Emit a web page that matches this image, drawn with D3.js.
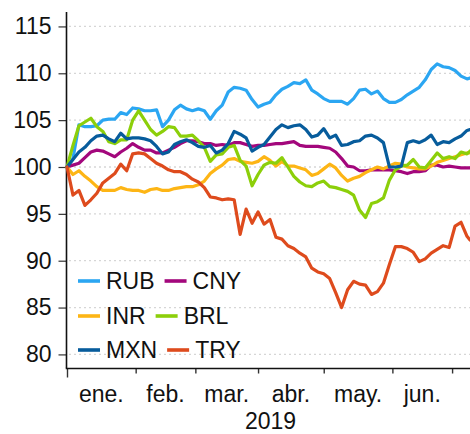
<!DOCTYPE html>
<html><head><meta charset="utf-8">
<script src="https://cdn.jsdelivr.net/npm/d3@7"></script>
<style>body{margin:0;background:#fff}svg{display:block}text{font-family:"Liberation Sans",Arial,sans-serif;fill:#111}</style>
</head><body><svg id="c" width="470" height="434"></svg>
<script>
// business-day index since 1 Jan 2019
const days = [0,2,4,6,8,10,12,14,16,18,20,22,24,26,28,30,32,34,36,38,40,42,44,46,48,50,52,54,56,58,60,62,64,66,68,70,72,74,76,78,80,82,84,86,88,90,92,94,96,98,100,102,104,106,108,110,112,114,116,118,120,122,124,126,128,130,132,134,135];
const monthTicks = [0,23,43,64,86,109,129];
const monthLabels = ["ene.","feb.","mar.","abr.","may.","jun."];
const yearLabel = "2019";
const yTicks = [80,85,90,95,100,105,110,115];
const seriesNames = ["RUB","CNY","INR","BRL","MXN","TRY"];
const seriesColors = ["#2ba6f2","#a3077c","#fdb515","#8ccf0a","#075c9c","#de4b1d"];

const rub = [100,100.9,104.5,104.3,104.3,104.4,105,105.1,105.1,105.8,105.6,106.3,106.2,106,106,106.1,104.3,105,106.1,106.6,106.2,106,106.2,106,105.1,106,106.6,108,108.5,108.4,108.2,107.2,106.4,106.7,106.9,107.7,108.3,108.6,109,108.9,109.3,108.2,107.8,107.3,107,107,107,106.7,107.3,108.2,108.3,107.8,108.1,107.3,106.9,106.9,107.2,107.7,108.1,108.5,109.3,110.4,111,110.7,110.6,110.3,109.7,109.4,109.5];
const cny = [100,100.2,100.4,101,101.6,101.8,101.7,101.4,101.1,101.6,102,102.5,102.1,101.8,101.8,101.5,101.5,101.8,102.1,102.5,102.8,102.8,102.7,102.5,102.5,102.3,102.4,102.3,102.6,102.6,102.4,102.2,102.3,102.3,102.4,102.5,102.5,102.6,102.7,102.3,102.2,102.2,102.2,102.1,102,101.6,100.9,100.1,100,99.6,99.6,99.7,99.7,99.7,99.7,99.6,99.5,99.3,99.5,99.5,99.6,100.2,100.2,100,100.1,100,99.9,99.9,99.9];
const inr = [100,99.2,99.6,99,98.5,97.9,97.5,97.5,97.5,97.8,97.6,97.5,97.5,97.3,97.6,97.7,97.5,97.5,97.7,97.8,97.9,97.9,98.1,98.5,99.3,99.8,100.2,100.8,100.9,100.6,100.5,100.4,100.6,101.1,100.7,100.1,100.6,100.1,100.1,99.9,99.7,99.1,99.3,99.8,100.3,99.9,99.1,98.5,98.8,99,99.4,99.7,100,99.8,100.1,100.4,100.3,100,99.9,99.8,99.8,100.1,100.5,100.7,100.9,101.1,101.3,101.5,101.5];
const brl = [100,102.3,104.4,104.8,105.2,104.3,103.8,102.7,102.5,102.9,102.9,105,106,105,104,103.4,103.8,104.3,104.2,103.3,103.3,103.4,102.8,102.1,100.6,101.3,101.4,102.1,102.3,100.7,100.1,98,99.2,100.2,100.5,100.4,101,100,99,98.4,98,97.9,98.3,98.5,97.9,97.8,97.6,97.4,97,95.4,94.6,96.1,96.3,96.7,98.6,99.7,100.1,100.2,100.8,100,99.9,100.7,101.5,100.9,101.1,100.9,101.6,101.4,101.7];
const mxn = [100,100.8,101.6,102.1,102.8,103.3,103.4,103,102.7,103.6,103,103.1,103.1,103,102.8,102.2,101.4,101.6,102.4,102.7,102.9,102.6,102.2,102.1,102.3,101.5,101.8,102.5,103.8,103.5,103.1,101.7,102.1,102.4,103.2,104,104.5,104.2,104.4,104.5,104,103.2,103.4,104.1,103.1,103.4,102.3,102.4,102.7,102.8,103.3,103.4,103.1,102.6,100,100,100.1,102.6,102.8,102.6,102.9,103.4,102.4,102.7,102.6,103,103.3,103.9,104];
const tryv = [100,97,97.5,95.9,96.5,97.2,98.3,98.8,99.3,100.3,99.6,101.4,101.5,101.4,100.9,100.4,100.1,99.7,99.5,99.5,99.2,98.7,98.4,97.8,96.8,96.7,96.5,96.6,96.5,92.8,95.5,94,95.2,93.9,94.4,92.5,92.3,91.6,91.3,90.8,90.4,89.2,88.8,88.6,88.1,86.6,85,86.9,87.8,87.5,87.4,86.4,86.7,87.6,89.6,91.5,91.5,91.3,90.9,89.9,90.2,90.8,91.2,91.6,91.4,93.7,94.1,92.6,92.2];

const seriesValues = [rub, cny, inr, brl, mxn, tryv];
const series = seriesNames.map((n,i)=>({name:n,color:seriesColors[i],values:seriesValues[i]}));

const svg = d3.select("#c");
const L = 67, R = 470, T = 12, B = 368;
const x = d3.scaleLinear().domain([0,135]).range([L,R]);
const y = d3.scaleLinear().domain([78.55,116.54]).range([B,T]);
const FS = 23;

// gridlines
svg.append("g").selectAll("line").data(yTicks).join("line")
  .attr("x1",L+2).attr("x2",R).attr("y1",d=>y(d)).attr("y2",d=>y(d))
  .attr("stroke","#d6d6d6").attr("stroke-width",1.3).attr("stroke-dasharray","2,3");

// y axis
const yAxis = svg.append("g").attr("transform",`translate(${L-0.5},0)`)
  .call(d3.axisLeft(y).tickValues(yTicks).tickSize(8).tickPadding(7).tickFormat(d3.format("d")));
yAxis.select(".domain").remove();
yAxis.selectAll(".tick line").attr("stroke","#333").attr("stroke-width",1.2);
yAxis.selectAll(".tick text").attr("font-size",FS).attr("font-family","Liberation Sans, Arial, sans-serif").attr("fill","#111");
svg.append("line").attr("x1",L-0.5).attr("x2",L-0.5).attr("y1",T).attr("y2",B).attr("stroke","#111").attr("stroke-width",1.6);

// x axis
const xAxis = svg.append("g").attr("transform",`translate(0,${B+0.5})`)
  .call(d3.axisBottom(x).tickValues(monthTicks).tickSize(5).tickFormat(""));
xAxis.select(".domain").remove();
xAxis.selectAll(".tick line").attr("stroke","#333").attr("stroke-width",1.4)
  .attr("y2",(d,i)=>i===0?9:5);
svg.append("line").attr("x1",L-1.3).attr("x2",R).attr("y1",B+0.5).attr("y2",B+0.5).attr("stroke","#111").attr("stroke-width",1.6);

svg.append("g").selectAll("text").data(monthLabels).join("text")
  .attr("x",(d,i)=>(x(monthTicks[i])+x(monthTicks[i+1]))/2)
  .attr("y",402).attr("text-anchor","middle").attr("font-size",FS).text(d=>d);
svg.append("text").attr("x",(L+R)/2+2).attr("y",429).attr("text-anchor","middle").attr("font-size",FS).text(yearLabel);

// lines
const line = d3.line().x((d,i)=>x(days[i])).y(d=>y(d)).curve(d3.curveLinear);
svg.append("g").selectAll("path").data(series).join("path")
  .attr("d",d=>line(d.values)).attr("fill","none").attr("stroke",d=>d.color)
  .attr("stroke-width",3.2).attr("stroke-linejoin","round").attr("stroke-linecap","round");

// legend
const rows = [[0,1],[2,3],[4,5]];
const rowY = [281,316,350];
const lg = svg.append("g");
rows.forEach((r,ri)=>{
  let cx = 78;
  r.forEach(si=>{
    const s = series[si];
    lg.append("line").attr("x1",cx).attr("x2",cx+22).attr("y1",rowY[ri]).attr("y2",rowY[ri])
      .attr("stroke",s.color).attr("stroke-width",3.6);
    const t = lg.append("text").attr("x",cx+28).attr("y",rowY[ri]).attr("dy","0.36em")
      .attr("font-size",FS).text(s.name);
    cx = cx + 28 + t.node().getComputedTextLength() + 10;
  });
});
</script>
</body></html>
